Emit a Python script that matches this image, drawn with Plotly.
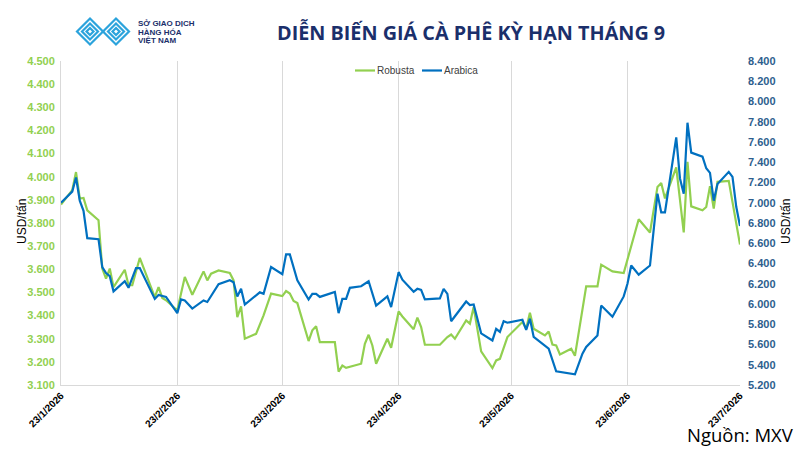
import plotly.graph_objects as go

# ---------------- data ----------------
robusta_dates = ["2026-01-23","2026-01-26","2026-01-27","2026-01-28","2026-01-29","2026-01-30","2026-02-02","2026-02-03","2026-02-04","2026-02-05","2026-02-06","2026-02-09","2026-02-10","2026-02-11","2026-02-13","2026-02-17","2026-02-18","2026-02-19","2026-02-20","2026-02-23","2026-02-24","2026-02-25","2026-02-27","2026-03-02","2026-03-03","2026-03-04","2026-03-06","2026-03-09","2026-03-10","2026-03-11","2026-03-12","2026-03-13","2026-03-16","2026-03-18","2026-03-20","2026-03-23","2026-03-24","2026-03-25","2026-03-26","2026-03-27","2026-03-30","2026-03-31","2026-04-01","2026-04-02","2026-04-06","2026-04-07","2026-04-08","2026-04-09","2026-04-13","2026-04-14","2026-04-15","2026-04-16","2026-04-17","2026-04-20","2026-04-21","2026-04-23","2026-04-24","2026-04-27","2026-04-28","2026-04-29","2026-04-30","2026-05-04","2026-05-06","2026-05-07","2026-05-08","2026-05-11","2026-05-12","2026-05-13","2026-05-15","2026-05-18","2026-05-19","2026-05-20","2026-05-22","2026-05-26","2026-05-27","2026-05-28","2026-05-29","2026-06-01","2026-06-02","2026-06-03","2026-06-04","2026-06-05","2026-06-08","2026-06-09","2026-06-12","2026-06-15","2026-06-16","2026-06-19","2026-06-22","2026-06-24","2026-06-26","2026-06-29","2026-07-01","2026-07-02","2026-07-03","2026-07-06","2026-07-08","2026-07-09","2026-07-10","2026-07-13","2026-07-14","2026-07-15","2026-07-16","2026-07-17","2026-07-20","2026-07-23"]
robusta_values = [3880,3942,4020,3906,3908,3855,3812,3603,3560,3603,3523,3598,3531,3531,3649,3480,3523,3476,3466,3422,3495,3567,3490,3591,3552,3581,3595,3584,3552,3393,3440,3300,3321,3401,3495,3484,3506,3495,3463,3454,3290,3336,3354,3285,3285,3158,3184,3174,3192,3278,3317,3271,3192,3300,3261,3418,3396,3341,3391,3350,3274,3274,3307,3318,3300,3379,3365,3437,3245,3173,3206,3213,3307,3372,3343,3412,3343,3314,3331,3275,3271,3232,3257,3226,3526,3526,3620,3591,3584,3704,3816,3759,3956,3973,3906,4040,3759,4064,3872,3855,3869,3959,3862,3978,3982,3707]

arabica_dates = ["2026-01-23","2026-01-26","2026-01-27","2026-01-28","2026-01-29","2026-01-30","2026-02-02","2026-02-03","2026-02-04","2026-02-05","2026-02-06","2026-02-09","2026-02-10","2026-02-12","2026-02-13","2026-02-17","2026-02-18","2026-02-20","2026-02-23","2026-02-24","2026-02-25","2026-02-27","2026-03-02","2026-03-03","2026-03-06","2026-03-09","2026-03-10","2026-03-11","2026-03-12","2026-03-13","2026-03-17","2026-03-18","2026-03-20","2026-03-23","2026-03-24","2026-03-25","2026-03-27","2026-03-30","2026-03-31","2026-04-01","2026-04-02","2026-04-06","2026-04-07","2026-04-08","2026-04-09","2026-04-10","2026-04-13","2026-04-15","2026-04-17","2026-04-20","2026-04-21","2026-04-23","2026-04-24","2026-04-27","2026-04-28","2026-04-29","2026-04-30","2026-05-04","2026-05-05","2026-05-06","2026-05-07","2026-05-11","2026-05-12","2026-05-13","2026-05-15","2026-05-18","2026-05-19","2026-05-20","2026-05-21","2026-05-22","2026-05-26","2026-05-27","2026-05-28","2026-05-29","2026-06-02","2026-06-04","2026-06-09","2026-06-11","2026-06-12","2026-06-15","2026-06-16","2026-06-19","2026-06-22","2026-06-23","2026-06-24","2026-06-26","2026-06-29","2026-07-01","2026-07-02","2026-07-03","2026-07-06","2026-07-07","2026-07-08","2026-07-09","2026-07-10","2026-07-13","2026-07-14","2026-07-15","2026-07-16","2026-07-17","2026-07-20","2026-07-21","2026-07-22","2026-07-23"]
arabica_values = [7000,7110,7250,7020,6920,6650,6640,6365,6305,6275,6125,6225,6160,6355,6355,6050,6090,6070,5910,6045,6035,5955,6035,6020,6195,6235,6215,6075,6150,5995,6115,6100,6365,6295,6490,6490,6235,6045,6100,6100,6070,6120,5910,6050,6050,6160,6175,6225,5985,6075,5970,6315,6240,6120,6150,6140,6045,6055,6150,6100,5830,6025,5990,5995,5710,5640,5755,5725,5830,5815,5845,5745,5855,5675,5560,5335,5305,5510,5575,5690,5985,5875,6075,6200,6380,6290,6380,7090,6905,6905,7645,7240,7090,7790,7495,7455,7340,7295,7020,7185,7305,7255,6960,6770]

x_tick_dates = ["2026-01-23","2026-02-23","2026-03-23","2026-04-23","2026-05-23","2026-06-23","2026-07-23"]
x_tick_labels = ["23/1/2026","23/2/2026","23/3/2026","23/4/2026","23/5/2026","23/6/2026","23/7/2026"]

series_names = ["Robusta", "Arabica"]

# ---------------- layout helpers ----------------
W, H = 800, 450
L, R, T, B = 61, 60, 61, 65
def px(x):
    return (x - L) / (W - L - R)
def py(y):
    return (H - B - y) / (H - T - B)

GREEN = "#92D050"
BLUE = "#0070C0"
NAVY = "#1B2F6B"
GRID = "#D9D9D9"
ARIAL = "Liberation Sans, Arial, sans-serif"

fig = go.Figure()
fig.add_trace(go.Scatter(x=robusta_dates, y=robusta_values, name=series_names[0], mode="lines",
                         line=dict(color=GREEN, width=2.2), yaxis="y", showlegend=False))
fig.add_trace(go.Scatter(x=arabica_dates, y=arabica_values, name=series_names[1], mode="lines",
                         line=dict(color=BLUE, width=2.2), yaxis="y2", showlegend=False))

shapes = []
# logo (decorative diamonds)
ICON = "#2BA3DC"
for cx in (90, 116):
    for h in (13, 8, 3.5):
        pts = [(cx - h, 31.5), (cx, 31.5 - h), (cx + h, 31.5), (cx, 31.5 + h)]
        path = "M " + " L ".join(f"{px(a):.5f},{py(b):.5f}" for a, b in pts) + " Z"
        shapes.append(dict(type="path", path=path, xref="paper", yref="paper",
                           line=dict(color=ICON, width=2.2), fillcolor="rgba(0,0,0,0)"))

annotations = [
    dict(text="DIỄN BIẾN GIÁ CÀ PHÊ KỲ HẠN THÁNG 9", x=px(471), y=py(32), xref="paper", yref="paper",
         showarrow=False, xanchor="center", yanchor="middle",
         font=dict(family="Open Sans, sans-serif", size=19.8, color=NAVY, weight="bold")),
    dict(text="USD/tấn", x=px(22), y=py(222), xref="paper", yref="paper", textangle=-90,
         showarrow=False, xanchor="center", yanchor="middle", font=dict(family=ARIAL, size=12, color="#000000")),
    dict(text="USD/tấn", x=px(786), y=py(222), xref="paper", yref="paper", textangle=-90,
         showarrow=False, xanchor="center", yanchor="middle", font=dict(family=ARIAL, size=12, color="#000000")),
    dict(text="Nguồn: MXV", x=px(796), y=py(434), xref="paper", yref="paper",
         showarrow=False, xanchor="right", yanchor="middle",
         font=dict(family="Open Sans, sans-serif", size=18.5, color="#000000")),
]
for i, t in enumerate(["SỞ GIAO DỊCH", "HÀNG HÓA", "VIỆT NAM"]):
    annotations.append(dict(text=t, x=px(136), y=py(24 + 8.5 * i), xref="paper", yref="paper",
                            showarrow=False, xanchor="left", yanchor="middle",
                            font=dict(family=ARIAL, size=8, color=NAVY, weight="bold")))

# manual legend
for name, color, x0 in [(series_names[0], GREEN, 355), (series_names[1], BLUE, 422)]:
    shapes.append(dict(type="line", xref="paper", yref="paper", x0=px(x0), x1=px(x0 + 20),
                       y0=py(70.5), y1=py(70.5), line=dict(color=color, width=2.2)))
    annotations.append(dict(text=name, x=px(x0 + 20), y=py(70.5), xref="paper", yref="paper",
                            showarrow=False, xanchor="left", yanchor="middle",
                            font=dict(family=ARIAL, size=10, color="#404040")))

fig.update_layout(
    width=W, height=H,
    margin=dict(l=L, r=R, t=T, b=B, pad=0),
    paper_bgcolor="white", plot_bgcolor="white",
    separators=",.",
    showlegend=False,
    xaxis=dict(type="date", range=["2026-01-23", "2026-07-23"], tickvals=x_tick_dates,
               ticktext=x_tick_labels, tickangle=-45, showgrid=True, gridcolor=GRID, gridwidth=1,
               showline=True, linecolor=GRID, linewidth=1, ticks="", zeroline=False,
               tickfont=dict(family=ARIAL, size=10, color="#000000", weight="bold")),
    yaxis=dict(range=[3100, 4500], dtick=100, tickformat=",d", showgrid=False, zeroline=False,
               showline=True, linecolor=GRID, linewidth=1, ticks="", ticklabelstandoff=3,
               tickfont=dict(family=ARIAL, size=11, color=GREEN, weight="bold")),
    yaxis2=dict(range=[5200, 8400], dtick=200, tickformat=",d", overlaying="y", side="right",
                showgrid=False, zeroline=False, showline=False, ticks="", ticklabelstandoff=7,
                tickfont=dict(family=ARIAL, size=11, color="#2E5E8E", weight="bold")),
    shapes=shapes,
    annotations=annotations,
)

fig.write_html("out.html")
